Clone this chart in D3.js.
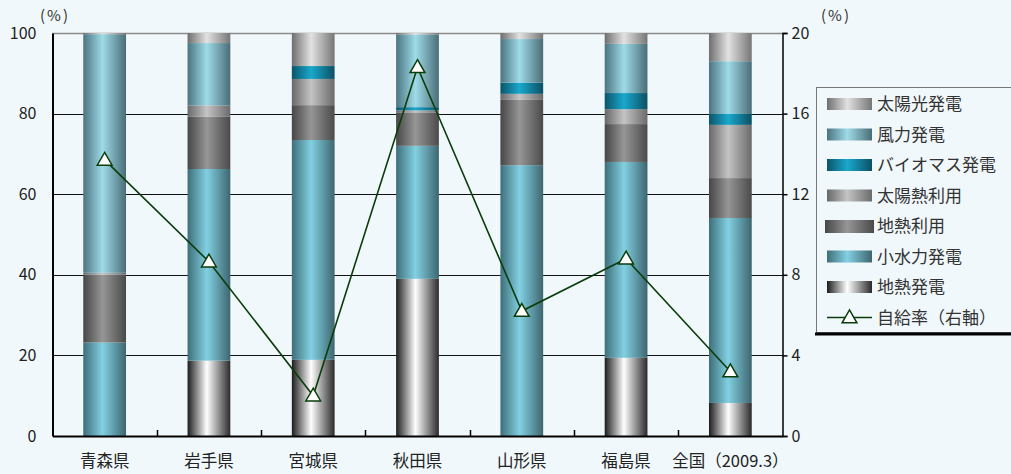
<!DOCTYPE html>
<html><head><meta charset="utf-8">
<script src="https://cdn.jsdelivr.net/npm/d3@7"></script>
<style>
html,body{margin:0;padding:0;background:#f1f8fb;}
svg{display:block;}
text{font-family:"Noto Sans CJK JP","Noto Sans",sans-serif;}
</style></head><body>
<svg id="c" width="1011" height="474"></svg>
<script>
const categories = ["青森県","岩手県","宮城県","秋田県","山形県","福島県","全国（2009.3）"];
const seriesNames = ["地熱発電","小水力発電","地熱利用","太陽熱利用","バイオマス発電","風力発電","太陽光発電"];
const geoPower   = [0, 18.7, 18.9, 39.0, 0, 19.4, 8.2];
const smallHydro = [23.2, 47.55, 54.55, 33.0, 67.2, 48.6, 45.9];
const geoUse     = [16.8, 12.95, 8.65, 8.3, 16.2, 9.4, 9.9];
const solarHeat  = [0.5, 2.85, 6.5, 0.5, 1.5, 3.7, 13.2];
const biomass    = [0, 0, 3.2, 0.8, 2.8, 4.0, 2.7];
const wind       = [59.2, 15.45, 0, 18.0, 10.8, 12.2, 13.1];
const solarPower = [0.3, 2.5, 8.2, 0.4, 1.5, 2.7, 7.0];
const selfSufficiency = [13.7, 8.65, 2.0, 18.3, 6.2, 8.8, 3.2];
const leftTicks = [0,20,40,60,80,100];
const rightTicks = [0,4,8,12,16,20];
const lineName = "自給率（右軸）";
const unitLabel = "(%)";

const seriesValues = [geoPower, smallHydro, geoUse, solarHeat, biomass, wind, solarPower];
const grad = {
  "地熱発電":["#1c1c1c","#ffffff","#2a2a2a"],
  "小水力発電":["#3e6e7a","#82d0e2","#3d6670"],
  "地熱利用":["#464646","#969696","#4a4a4a"],
  "太陽熱利用":["#686868","#c4c4c4","#6a6a6a"],
  "バイオマス発電":["#0b5468","#1aa8cc","#0b5064"],
  "風力発電":["#4b7480","#9edbe8","#4a6d77"],
  "太陽光発電":["#6e6e6e","#e2e2e2","#767676"]
};

const svg = d3.select("#c");
const defs = svg.append("defs");
seriesNames.forEach((n,i)=>{
  const g = defs.append("linearGradient").attr("id","g"+i).attr("x1","0").attr("x2","1").attr("y1","0").attr("y2","0");
  const c = grad[n];
  g.append("stop").attr("offset","0%").attr("stop-color",c[0]);
  g.append("stop").attr("offset","45%").attr("stop-color",c[1]);
  g.append("stop").attr("offset","100%").attr("stop-color",c[2]);
});

const L=52.5, R=782.5, T=33, B=436;
const x = d3.scaleBand().domain(categories).range([L,R]).paddingInner(0.59).paddingOuter(0.295);
const yL = d3.scaleLinear().domain([0,100]).range([B,T]);
const yR = d3.scaleLinear().domain([0,20]).range([B,T]);
const numFont = "'Open Sans','Noto Sans',sans-serif";

// gridlines
svg.append("g").selectAll("line").data(leftTicks.filter(t=>t>0&&t<100)).join("line")
  .attr("x1",L).attr("x2",R).attr("y1",d=>Math.round(yL(d))+0.5).attr("y2",d=>Math.round(yL(d))+0.5)
  .attr("stroke","#111").attr("stroke-width",1);
// top border
svg.append("line").attr("x1",L).attr("x2",R).attr("y1",T+0.5).attr("y2",T+0.5).attr("stroke","#8a8a8a").attr("stroke-width",1.5);

// stacked bars
const table = categories.map((c,i)=>{const o={cat:c}; seriesNames.forEach((n,k)=>o[n]=seriesValues[k][i]); return o;});
const stack = d3.stack().keys(seriesNames)(table);
stack.forEach((layer,k)=>{
  svg.append("g").selectAll("rect").data(layer).join("rect")
    .attr("x",d=>x(d.data.cat)).attr("width",x.bandwidth())
    .attr("y",d=>yL(d[1])).attr("height",d=>Math.max(0,yL(d[0])-yL(d[1])))
    .attr("fill","url(#g"+k+")");
});

// axes
const axL = svg.append("g").attr("transform",`translate(${L},0)`)
  .call(d3.axisLeft(yL).tickValues(leftTicks).tickSize(0).tickPadding(16));
axL.select(".domain").attr("stroke","#000").attr("stroke-width",2);
axL.selectAll("text").attr("font-family",numFont).attr("font-size",16).attr("fill","#222");

const axR = svg.append("g").attr("transform",`translate(${R},0)`)
  .call(d3.axisRight(yR).tickValues(rightTicks).tickSize(5).tickPadding(4));
axR.select(".domain").attr("stroke","#000").attr("stroke-width",1.5);
axR.selectAll(".tick line").attr("stroke","#000").attr("stroke-width",1.5);
axR.selectAll("text").attr("font-family",numFont).attr("font-size",16).attr("fill","#222");

const axB = svg.append("g").attr("transform",`translate(0,${B})`)
  .call(d3.axisBottom(x).tickSize(0).tickPadding(19));
axB.select(".domain").attr("stroke","#000").attr("stroke-width",2);
axB.selectAll("text").attr("font-size",16.5).attr("fill","#222");
// boundary ticks (inside)
const bounds = categories.slice(1).map(c=>x(c)-x.step()*x.paddingInner()/2);
svg.append("g").selectAll("line").data(bounds).join("line")
  .attr("x1",d=>Math.round(d)+0.5).attr("x2",d=>Math.round(d)+0.5).attr("y1",B).attr("y2",B-6)
  .attr("stroke","#000").attr("stroke-width",1.5);

// unit labels
svg.append("text").attr("x",40).attr("y",21).attr("font-family",numFont).attr("font-size",15).attr("letter-spacing",2).attr("fill","#333").text(unitLabel);
svg.append("text").attr("x",821).attr("y",21).attr("font-family",numFont).attr("font-size",15).attr("letter-spacing",2).attr("fill","#333").text(unitLabel);

// line
const cx = d=>x(d)+x.bandwidth()/2;
const pts = categories.map((c,i)=>[cx(c), yR(selfSufficiency[i])]);
svg.append("path").attr("d",d3.line()(pts)).attr("fill","none").attr("stroke","#0a3d0a").attr("stroke-width",1.6);
const tri = d3.symbol().type(d3.symbolTriangle).size(95);
svg.append("g").selectAll("path").data(pts).join("path")
  .attr("transform",d=>`translate(${d[0]},${d[1]+1})`).attr("d",tri())
  .attr("fill","#fff").attr("stroke","#0a3d0a").attr("stroke-width",1.5);

// legend
const lg = svg.append("g");
lg.append("rect").attr("x",816.5).attr("y",87.5).attr("width",200).attr("height",245).attr("fill","#f1f8fb").attr("stroke","#777").attr("stroke-width",1);
lg.append("line").attr("x1",815).attr("x2",1011).attr("y1",334).attr("y2",334).attr("stroke","#000").attr("stroke-width",3);
const legendOrder = seriesNames.slice().reverse();
legendOrder.forEach((n,i)=>{
  const yy = 104 + i*30.5;
  const k = seriesNames.indexOf(n);
  const wide = n==="地熱利用";
  lg.append("rect").attr("x",wide?825:827).attr("y",yy-6).attr("width",wide?49:45).attr("height",wide?13:12).attr("fill","url(#g"+k+")");
  lg.append("text").attr("x",877).attr("y",yy).attr("dy","0.36em").attr("font-size",17).attr("fill","#333").text(n);
});
const ly = 104 + 7*30.5;
lg.append("line").attr("x1",827).attr("x2",872).attr("y1",ly).attr("y2",ly).attr("stroke","#0a3d0a").attr("stroke-width",1.6);
lg.append("path").attr("transform",`translate(849.5,${ly+1})`).attr("d",tri()).attr("fill","#fff").attr("stroke","#0a3d0a").attr("stroke-width",1.5);
lg.append("text").attr("x",877).attr("y",ly).attr("dy","0.36em").attr("font-size",17).attr("fill","#333").text(lineName);
</script></body></html>
